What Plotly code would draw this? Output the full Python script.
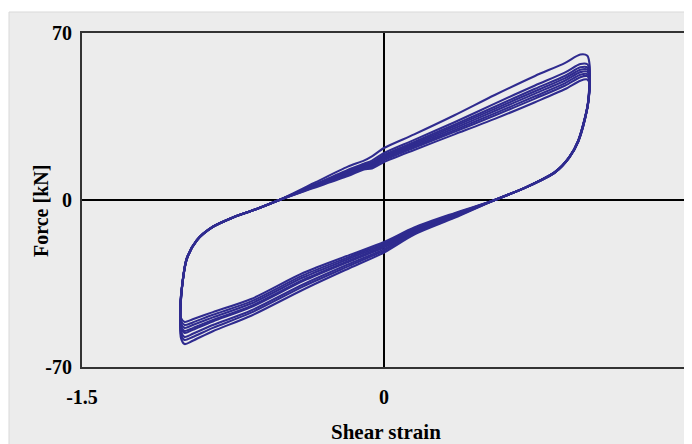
import plotly.graph_objects as go

# Shared strain path of one hysteresis loop (left corner -> upper branch -> right corner -> lower branch)
strain = [-0.990, -1.008, -1.012, -1.005, -0.980, -0.930, -0.850, -0.750, -0.640,
          -0.520, -0.350, -0.180, -0.100, -0.060, 0.000, 0.150, 0.350, 0.550, 0.750, 0.900,
          0.975, 1.010,
          1.022, 1.020, 1.010, 0.965, 0.920, 0.850, 0.710,
          0.550, 0.350, 0.150, 0.000, -0.170, -0.400, -0.660, -0.850, -0.950]

force_c1 = [-60.4, -58.0, -50.0, -38.0, -25.0, -17.0, -11.3, -7.3, -4.0,
            0.0, 7.0, 14.0, 16.5, 18.3, 21.8, 27.5, 35.5, 44.0, 52.0, 57.5,
            61.0, 60.5,
            56.0, 48.0, 39.0, 25.0, 18.0, 11.8, 5.5,
            0.0, -7.5, -14.5, -22.0, -28.5, -37.5, -48.5, -55.0, -59.0]
force_c2 = [-58.7, -56.5, -49.2, -38.0, -25.0, -17.0, -11.3, -7.3, -4.0,
            0.0, 6.3, 12.6, 15.2, 16.5, 19.7, 25.2, 32.6, 40.4, 48.0, 53.5,
            57.0, 56.9,
            53.3, 46.9, 39.0, 25.0, 18.0, 11.8, 5.5,
            0.0, -7.1, -14.0, -21.2, -27.5, -36.2, -47.2, -53.6, -57.4]
force_c3 = [-57.4, -55.3, -48.6, -37.9, -24.9, -17.0, -11.3, -7.3, -4.0,
            0.0, 6.0, 12.0, 14.7, 15.8, 18.9, 24.3, 31.6, 39.1, 46.6, 52.1,
            55.6, 55.6,
            52.3, 46.5, 38.9, 24.9, 17.9, 11.8, 5.5,
            0.0, -6.9, -13.5, -20.6, -26.7, -35.3, -46.3, -52.4, -56.1]
force_c4 = [-55.7, -53.7, -47.7, -37.8, -24.8, -16.9, -11.3, -7.3, -4.0,
            0.0, 5.8, 11.7, 14.4, 15.3, 18.4, 23.7, 30.9, 38.2, 45.6, 51.1,
            54.6, 54.7,
            51.7, 46.3, 38.8, 24.8, 17.9, 11.7, 5.5,
            0.0, -6.5, -13.0, -19.8, -25.7, -33.9, -44.9, -50.9, -54.4]
force_c5 = [-54.9, -53.0, -47.3, -37.7, -24.7, -16.9, -11.2, -7.3, -4.0,
            0.0, 5.7, 11.3, 14.0, 14.8, 17.9, 23.1, 30.1, 37.3, 44.6, 50.1,
            53.6, 53.8,
            51.0, 46.0, 38.7, 24.7, 17.9, 11.7, 5.5,
            0.0, -6.3, -12.7, -19.4, -25.3, -33.4, -44.4, -50.3, -53.7]
force_c6 = [-53.6, -51.8, -46.7, -37.6, -24.6, -16.8, -11.2, -7.3, -4.0,
            0.0, 5.5, 10.9, 13.7, 14.3, 17.3, 22.5, 29.3, 36.3, 43.5, 49.0,
            52.5, 52.8,
            50.2, 45.7, 38.6, 24.6, 17.8, 11.7, 5.5,
            0.0, -6.0, -12.3, -18.8, -24.5, -32.4, -43.4, -49.2, -52.4]
force_c7 = [-52.4, -50.7, -46.1, -37.5, -24.5, -16.8, -11.2, -7.3, -4.0,
            0.0, 5.3, 10.6, 13.3, 13.8, 16.7, 21.9, 28.6, 35.4, 42.5, 48.0,
            51.5, 51.9,
            49.6, 45.4, 38.5, 24.5, 17.8, 11.6, 5.5,
            0.0, -5.8, -11.9, -18.2, -23.8, -31.5, -42.5, -48.1, -51.3]
force_c8 = [-51.1, -49.5, -45.5, -37.5, -24.5, -16.8, -11.2, -7.3, -4.0,
            0.0, 5.0, 10.0, 12.8, 13.2, 15.9, 21.0, 27.5, 34.0, 41.0, 46.5,
            50.0, 50.5,
            48.5, 45.0, 38.5, 24.5, 17.8, 11.6, 5.5,
            0.0, -5.5, -11.5, -17.6, -23.0, -30.5, -41.5, -47.0, -50.0]

cycles = [force_c1, force_c2, force_c3, force_c4, force_c5, force_c6, force_c7, force_c8]

x_ticks = [-1.5, 0]
y_ticks = [-70, 0, 70]

LINE = "#2f2b8f"
BG = "#ececec"
FONT = "Liberation Serif"

fig = go.Figure()
for f in cycles:
    fig.add_trace(go.Scatter(
        x=strain + [strain[0]], y=f + [f[0]], mode="lines",
        line=dict(color=LINE, width=2.1, shape="spline", smoothing=0.8),
        showlegend=False, hoverinfo="skip"))

# page body has an 8px margin: figure origin sits at window (8, 8)
OFF = 8
W, H = 692 - OFF, 444 - OFF
L, R, T, B = 82 - OFF, 686 - OFF, 33 - OFF, 367 - OFF
pw, ph = R - L, B - T

def px(xw):
    return (xw - OFF - L) / pw

def py(yw):
    return (B - (yw - OFF)) / ph

fig.add_shape(type="rect", xref="paper", yref="paper",
              x0=px(9), x1=px(700), y0=py(452), y1=py(12),
              fillcolor=BG, line=dict(color="#d9d9d9", width=1), layer="below")

axis_common = dict(showgrid=False, showline=True, mirror=True, linecolor="#333333",
                   linewidth=2, zeroline=True, zerolinecolor="#000000", zerolinewidth=1.5,
                   ticks="", automargin=False,
                   tickfont=dict(family=FONT, size=20, color="#000000"))

fig.update_xaxes(range=[-1.5, 1.5], tickvals=x_ticks,
                 ticktext=["<b>%s</b>" % v for v in x_ticks],
                 ticklabelstandoff=11, **axis_common)
fig.update_yaxes(range=[-70, 70], tickvals=y_ticks,
                 ticktext=["<b>%s</b>" % v for v in y_ticks],
                 ticklabelstandoff=4, **axis_common)

fig.add_annotation(text="<b>Shear strain</b>", xref="paper", yref="paper",
                   x=px(386), y=py(432), showarrow=False, yanchor="middle",
                   font=dict(family=FONT, size=21, color="#000000"))
fig.add_annotation(text="<b>Force [kN]</b>", xref="paper", yref="paper",
                   x=px(28), y=py(211), showarrow=False, textangle=-90,
                   font=dict(family=FONT, size=20, color="#000000"))

fig.update_layout(width=W, height=H, autosize=False,
                  margin=dict(l=L, r=W - R, t=T, b=H - B, pad=0),
                  paper_bgcolor="#ffffff", plot_bgcolor=BG,
                  font=dict(family=FONT, size=20, color="#000000"))

fig.write_html("out.html")
